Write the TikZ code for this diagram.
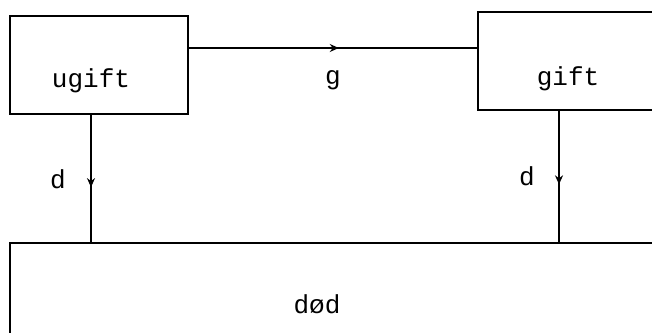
\documentclass[tikz,border=0pt]{standalone}
\usepackage{fontspec}
\setmonofont{Liberation Mono}
\usetikzlibrary{arrows.meta,decorations.markings}
\newcommand{\boxfont}{\fontsize{26}{30}\selectfont\ttfamily}
\tikzset{
  >={Stealth[length=9pt,width=8pt]},
  blk/.style ={rectangle, draw, line width=2pt, minimum width=178pt,
               minimum height=98pt, inner sep=0pt},
  txt/.style ={anchor=base, inner sep=0pt, font=\boxfont},
  con/.style ={draw, line width=2pt, postaction={decorate},
               decoration={markings, mark=at position #1 with {\arrow{>}}}},
  con/.default=0.5,
}
\begin{document}
\begin{tikzpicture}[x=1pt,y=-1pt]
\useasboundingbox (0,0) rectangle (652,332);
\clip (0,0) rectangle (652,332);
\node[blk] (ugift) at (99,64.5) {};
\node[blk] (gift)  at (567,61) {};
\node[blk, minimum width=700pt, minimum height=120pt] (dod) at (360,303) {};
\node[txt] (ugiftlbl) at (91,87)  {ugift};
\node[txt] (giftlbl)  at (568,85) {gift};
\node[txt] (dodlbl)   at (317,313) {død};
\coordinate (gl) at (ugift.east |- 0,48);
\coordinate (gr) at (gift.west |- 0,48);
\draw[con=0.52] (gl) -- (gr);
\node[txt] (glbl) at (333,84) {g};
\draw[con=0.57] (ugift.south -| 91,0) -- (dod.north -| 91,0);
\draw[con=0.56] (gift.south -| 559,0) -- (dod.north -| 559,0);
\node[txt] (dleft)  at (58,188)  {d};
\node[txt] (dright) at (527,185) {d};
\end{tikzpicture}
\end{document}
